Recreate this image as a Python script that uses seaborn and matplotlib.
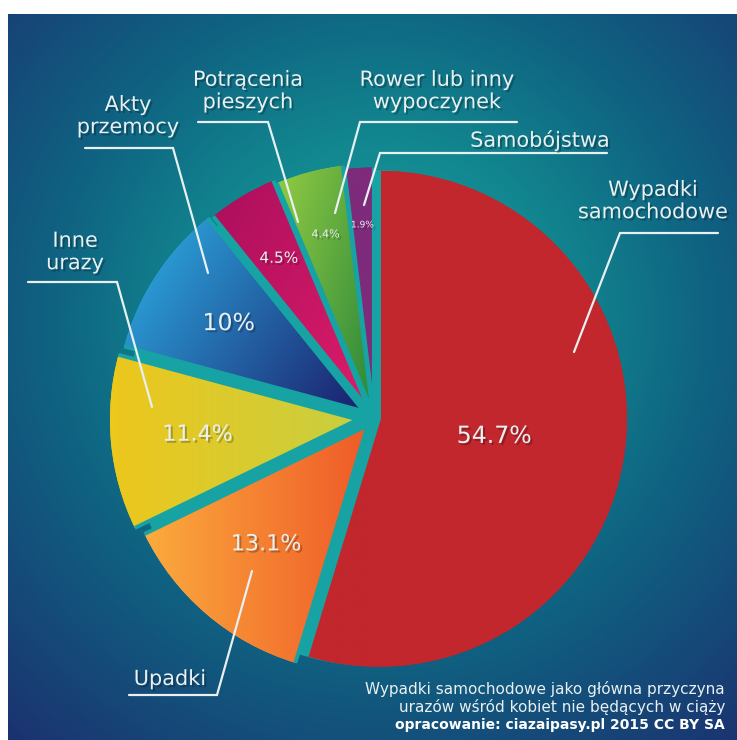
import numpy as np
import matplotlib
matplotlib.use("Agg")
import matplotlib.pyplot as plt
import seaborn as sns
from matplotlib.colors import to_rgb
import matplotlib.patheffects as pe

# ---------------- data ----------------
categories = ["Wypadki samochodowe", "Upadki", "Inne urazy", "Akty przemocy",
              "Potrącenia pieszych", "Rower lub inny wypoczynek", "Samobójstwa"]
label_texts = ["Wypadki\nsamochodowe", "Upadki", "Inne\nurazy", "Akty\nprzemocy",
               "Potrącenia\npieszych", "Rower lub inny\nwypoczynek", "Samobójstwa"]
values = [54.7, 13.1, 11.4, 10.0, 4.5, 4.4, 1.9]
pct_labels = ["54.7%", "13.1%", "11.4%", "10%", "4.5%", "4.4%", "1.9%"]
caption_lines = ["Wypadki samochodowe jako główna przyczyna",
                 "urazów wśród kobiet nie będących w ciąży"]
credit = "opracowanie: ciazaipasy.pl 2015 CC BY SA"

# ---------------- styles ----------------
W, H = 737, 740
def iy(y):
    return H - y

grad_colors = [("#c1272d", "#c1272d"), ("#fbab3d", "#ef5a28"), ("#edc71c", "#c8cf40"),
               ("#2db3e8", "#1b1f6c"), ("#ab0f5d", "#dc1c6a"), ("#93cc42", "#2a873b"),
               ("#7e2b7b", "#7e2b7b")]
grad_angle = [0, 0, 0, -35, -30, -15, 0]
explode_frac = [0.02, 0.04, 0.065, 0.05, 0.04, 0.025, 0.01]
pct_dist = [0.47, 0.63, 0.65, 0.65, 0.71, 0.74, 0.77]
pct_size = [17, 16, 16, 17, 11, 8, 6.5]
CX, CY, R = 374, iy(418), 248
TEAL = "#17a3a3"
TXT = "#e8f0f1"

# leader lines (image pixel coords) and label anchor positions
leaders = [[(718, 233), (620, 233), (574, 352)],
           [(129, 695), (217, 695), (252, 571)],
           [(28, 282), (117, 282), (152, 407)],
           [(85, 148), (173, 148), (208, 273)],
           [(198, 122), (268, 122), (298, 222)],
           [(517, 122), (360, 122), (335, 213)],
           [(607, 153), (380, 153), (364, 205)]]
label_pos = [(653, 201), (170, 679), (75, 252), (128, 116), (248, 91), (437, 91), (540, 140)]

sns.set_theme(style="white")
plt.rcParams['font.family'] = ['DejaVu Sans']

fig = plt.figure(figsize=(W / 100, H / 100), dpi=100)
fig.patch.set_facecolor("white")
ax = fig.add_axes([0, 0, 1, 1])

# ---- radial gradient background ----
nx, ny = 370, 364
bx0, bx1, by0, by1 = 8, W, 14, H
xs = np.linspace(bx0, bx1, nx)
ys = np.linspace(by0, by1, ny)
X, Y = np.meshgrid(xs, ys)
d = np.sqrt((X - 380) ** 2 + ((Y - 320) * 1.0) ** 2) / 560.0
stops = [0.0, 0.33, 0.58, 1.0]
cols = [to_rgb("#19a6a6"), to_rgb("#12868f"), to_rgb("#0f6482"), to_rgb("#1b3270")]
bg = np.zeros((ny, nx, 3))
for k in range(3):
    bg[..., k] = np.interp(np.clip(d, 0, 1), stops, [c[k] for c in cols])
ax.imshow(bg, extent=(bx0, bx1, iy(by1), iy(by0)), origin="upper", zorder=0,
          interpolation="bilinear")

# teal underlay disc (shows through the gaps between slices)
under, _ = ax.pie([sum(values)], colors=[TEAL], center=(CX, CY), radius=R,
                  wedgeprops=dict(linewidth=0))
for u in under:
    u.set_zorder(1)

# ---- pie ----
wedges, _ = ax.pie(values, colors=[c[0] for c in grad_colors], startangle=90,
                   counterclock=False, explode=[e * R for e in explode_frac],
                   center=(CX, CY), radius=R, wedgeprops=dict(linewidth=0))

def grad_fill(wedge, c0, c1, ang):
    ext = wedge.get_path().get_extents()
    x0, y0, x1, y1 = ext.x0, ext.y0, ext.x1, ext.y1
    n = 160
    gx, gy = np.meshgrid(np.linspace(x0, x1, n), np.linspace(y0, y1, n))
    dx, dy = np.cos(np.radians(ang)), np.sin(np.radians(ang))
    proj = gx * dx + gy * dy
    t = (proj - proj.min()) / max(proj.max() - proj.min(), 1e-9)
    a, b = np.array(to_rgb(c0)), np.array(to_rgb(c1))
    img = a[None, None, :] * (1 - t[..., None]) + b[None, None, :] * t[..., None]
    im = ax.imshow(img, extent=(x0, x1, y0, y1), origin="lower", zorder=1.5,
                   interpolation="bilinear")
    im.set_clip_path(wedge)

for w, (c0, c1), ang in zip(wedges, grad_colors, grad_angle):
    w.set_zorder(1.2)
    grad_fill(w, c0, c1, ang)

# teal separators along each slice's own radial edges
for w in wedges:
    cx0, cy0 = w.center
    for th_deg in (w.theta1, w.theta2):
        th = np.radians(th_deg)
        ax.plot([cx0, cx0 + w.r * np.cos(th)], [cy0, cy0 + w.r * np.sin(th)],
                color=TEAL, lw=2.8, solid_capstyle="butt", zorder=3)

# percentage labels
shadow = [pe.withSimplePatchShadow(offset=(1.5, -1.5), shadow_rgbFace="black", alpha=0.25)]
for w, txt, dist, fs in zip(wedges, pct_labels, pct_dist, pct_size):
    mid = np.radians((w.theta1 + w.theta2) / 2)
    px = w.center[0] + dist * w.r * np.cos(mid)
    py = w.center[1] + dist * w.r * np.sin(mid)
    ax.text(px, py, txt, color=TXT, fontsize=fs, ha="center", va="center",
            zorder=6, path_effects=shadow)

# leader lines and category labels
for pts, lab, (lx, ly) in zip(leaders, label_texts, label_pos):
    ax.plot([p[0] for p in pts], [iy(p[1]) for p in pts], color=TXT, lw=1.6,
            zorder=5, solid_joinstyle="miter")
    ax.text(lx, iy(ly), lab, color=TXT, fontsize=15, ha="center", va="center",
            linespacing=1.15, zorder=6, path_effects=shadow)

# caption
ax.text(725, iy(689), caption_lines[0], color=TXT, fontsize=11, ha="right", va="center", zorder=6)
ax.text(725, iy(707), caption_lines[1], color=TXT, fontsize=11, ha="right", va="center", zorder=6)
ax.text(725, iy(725), credit, color="white", fontsize=10, fontweight="bold",
        ha="right", va="center", zorder=6)

ax.set_xlim(0, W)
ax.set_ylim(0, H)
ax.set_aspect("equal")
ax.axis("off")
fig.savefig("out.png", dpi=100, facecolor="white")
